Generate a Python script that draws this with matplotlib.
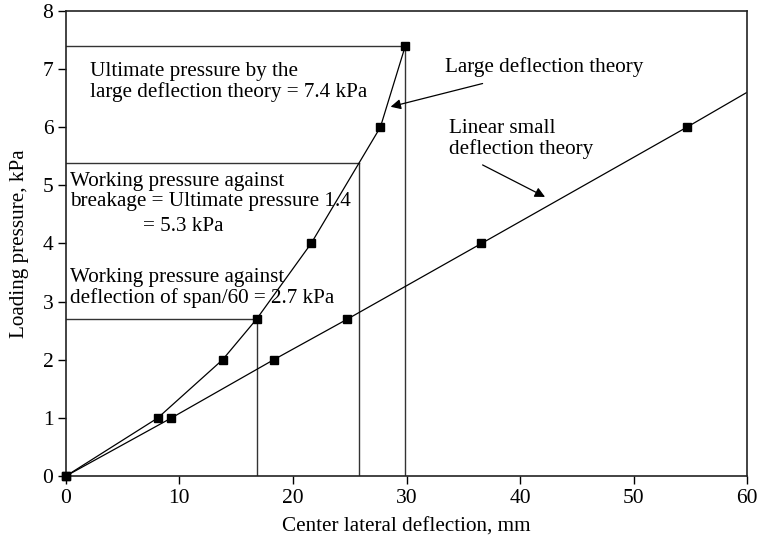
import matplotlib
matplotlib.use("Agg")
import matplotlib.pyplot as plt

plt.rcParams["font.family"] = ["Liberation Serif", "DejaVu Serif"]

# large deflection theory (measured points)
large_x = [0, 8.1, 13.8, 16.8, 21.6, 27.7, 29.9]
large_y = [0, 1, 2, 2.7, 4, 6, 7.4]

# linear small deflection theory
linear_x = [0, 9.3, 18.3, 24.8, 36.6, 54.7]
linear_y = [0, 1, 2, 2.7, 4, 6]
linear_end = (60, 6.6)

# reference levels: (deflection, pressure)
ultimate = (29.9, 7.4)
breakage = (25.8, 5.38)
span60 = (16.8, 2.7)

xticks = [0, 10, 20, 30, 40, 50, 60]
yticks = [0, 1, 2, 3, 4, 5, 6, 7, 8]

fig, ax = plt.subplots(figsize=(7.57, 5.41), dpi=100)
fig.subplots_adjust(left=0.087, right=0.987, top=0.980, bottom=0.120)

# guide lines
for gx, gy in [ultimate, breakage, span60]:
    ax.plot([0, gx], [gy, gy], color="#333333", lw=1.0)
    ax.plot([gx, gx], [0, gy], color="#333333", lw=1.0)

ax.plot(large_x, large_y, color="black", lw=0.9, marker="s", ms=6.3,
        markerfacecolor="black", clip_on=False, zorder=3)
ax.plot(linear_x + [linear_end[0]], linear_y + [linear_end[1]], color="black", lw=0.9)
ax.plot(linear_x, linear_y, ls="none", marker="s", ms=6.3, color="black",
        clip_on=False, zorder=3)

fs = 15.2
ls = 1.08
ax.text(2.1, 6.78, "Ultimate pressure by the\nlarge deflection theory = 7.4 kPa",
        fontsize=fs, va="center", linespacing=ls)
ax.text(0.35, 4.9, "Working pressure against\nbreakage = Ultimate pressure 1.4",
        fontsize=fs, va="center", linespacing=ls)
ax.text(6.8, 4.3, "= 5.3 kPa", fontsize=fs, va="center")
ax.text(0.35, 3.24, "Working pressure against\ndeflection of span/60 = 2.7 kPa",
        fontsize=fs, va="center", linespacing=ls)

ax.text(33.4, 7.04, "Large deflection theory", fontsize=fs, va="center")
ax.annotate("", xy=(28.6, 6.35), xytext=(36.7, 6.75),
            arrowprops=dict(arrowstyle="-|>", color="black", lw=0.9,
                            mutation_scale=15, shrinkA=0, shrinkB=0))

ax.text(33.7, 5.8, "Linear small\ndeflection theory", fontsize=fs, va="center",
        linespacing=ls)
ax.annotate("", xy=(42.2, 4.8), xytext=(36.7, 5.35),
            arrowprops=dict(arrowstyle="-|>", color="black", lw=0.9,
                            mutation_scale=15, shrinkA=0, shrinkB=0))

ax.set_xlim(0, 60)
ax.set_ylim(0, 8)
ax.set_xticks(xticks)
ax.set_yticks(yticks)
ax.tick_params(direction="out", length=6, width=1, labelsize=15.5, pad=3)
for s in ax.spines.values():
    s.set_linewidth(1.2)
    s.set_color("#222222")

ax.set_xlabel("Center lateral deflection, mm", fontsize=15.2, labelpad=7)
ax.set_ylabel("Loading pressure, kPa", fontsize=15.2, labelpad=10)

fig.savefig("out.png", dpi=100)
